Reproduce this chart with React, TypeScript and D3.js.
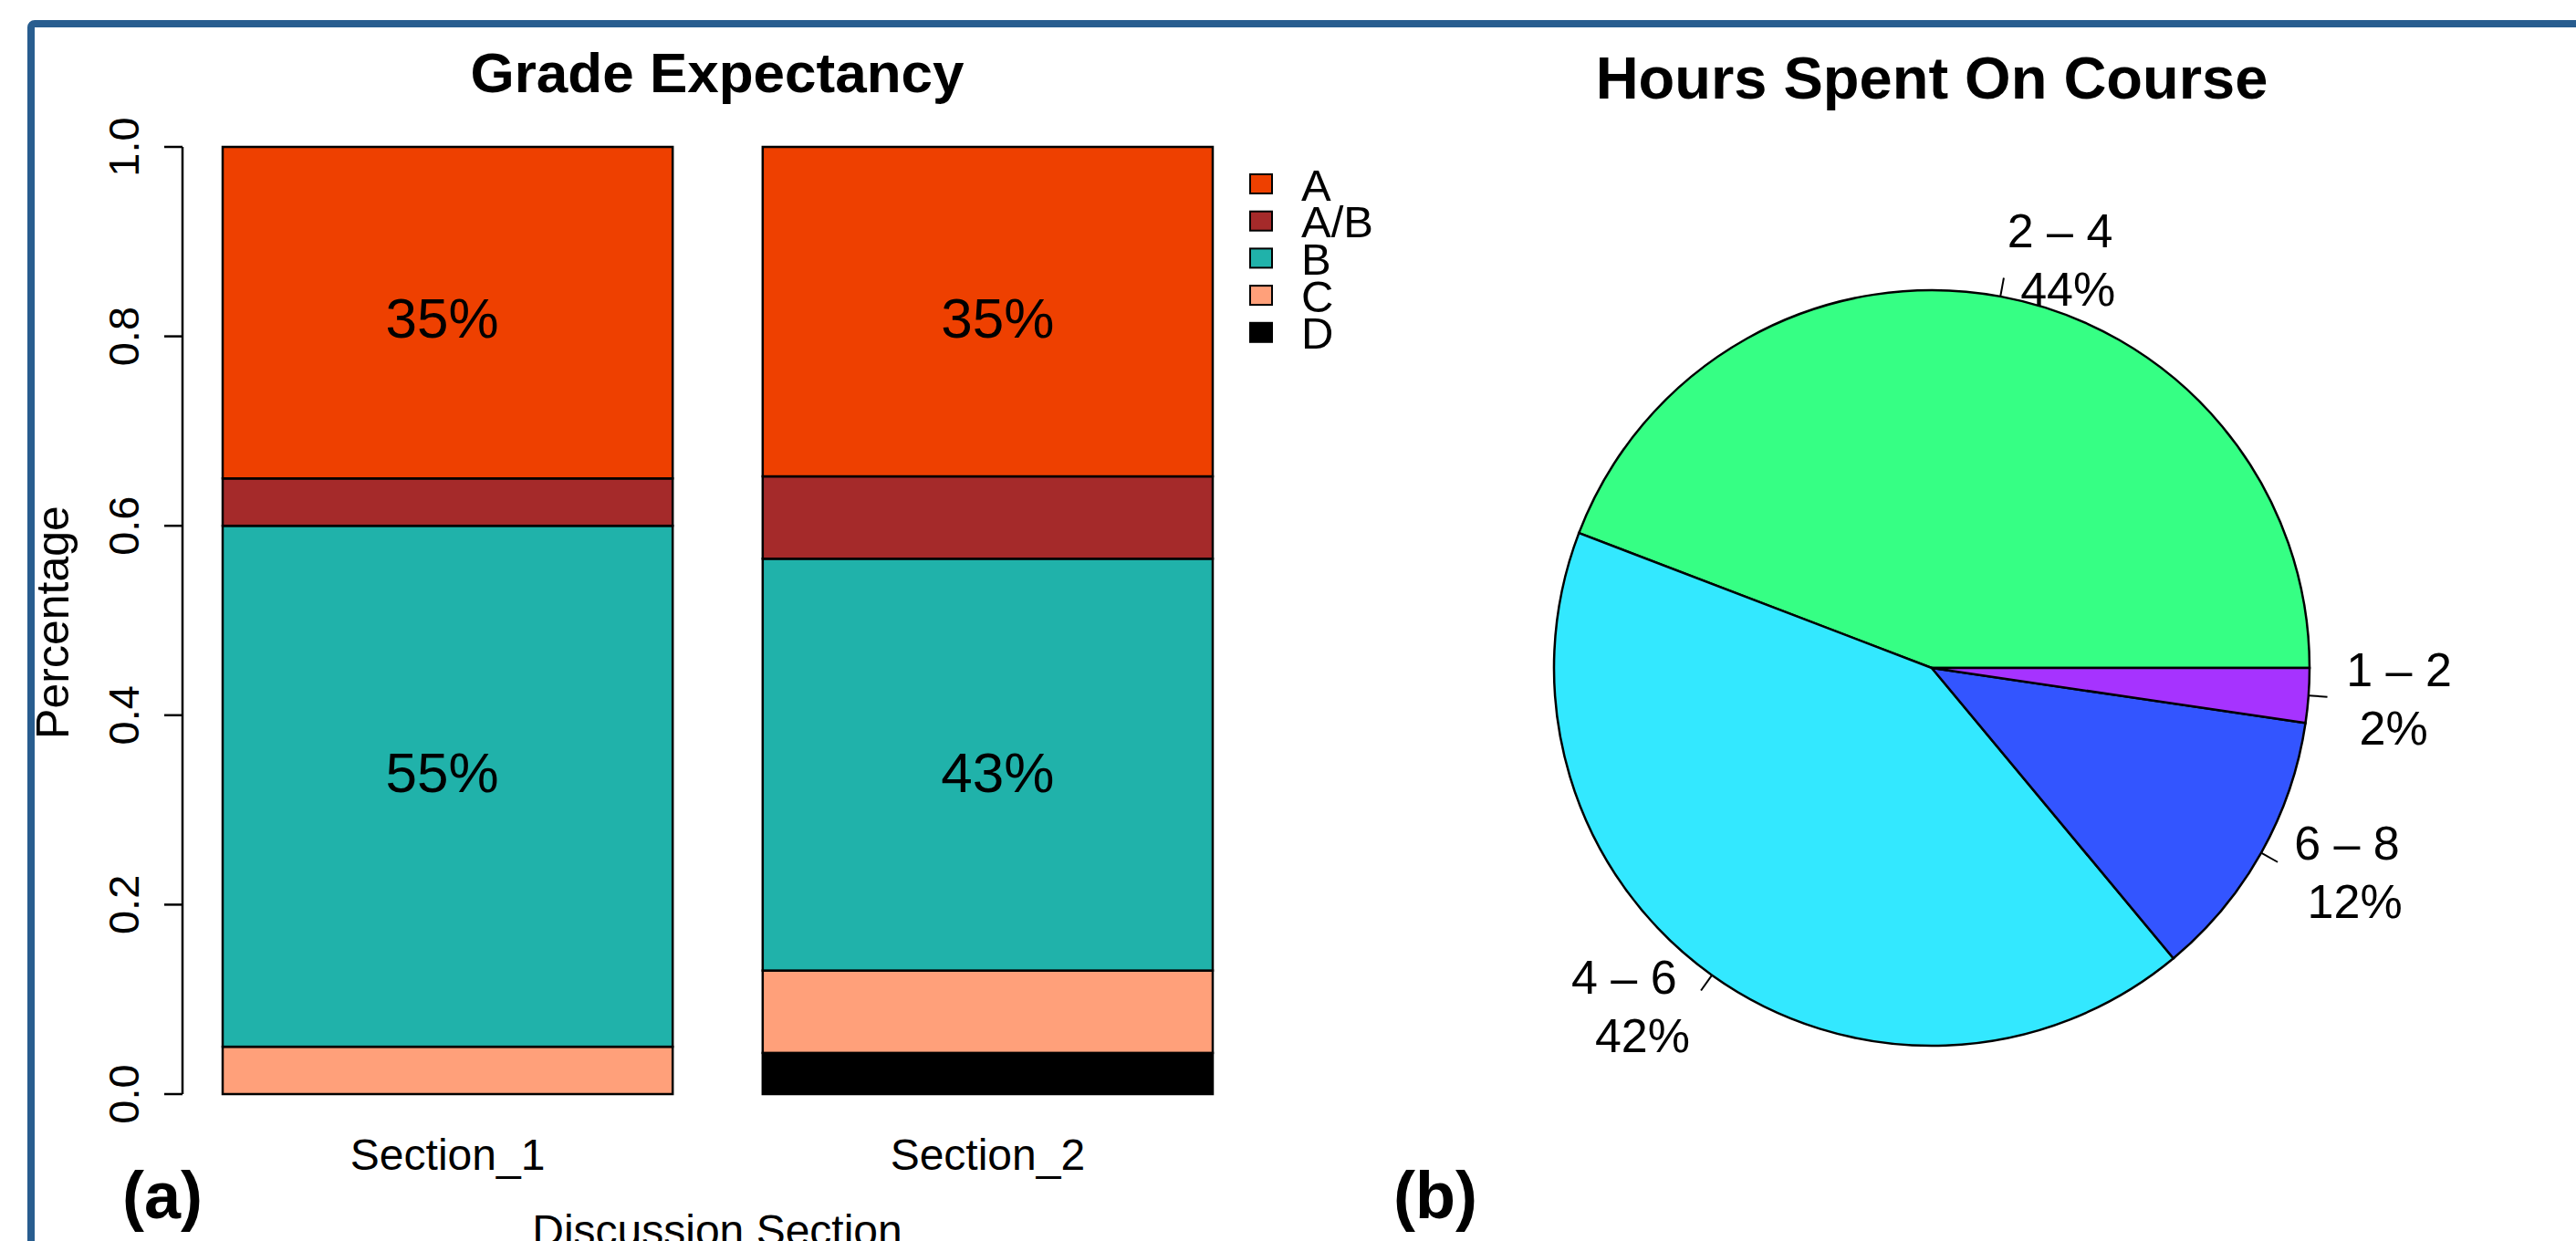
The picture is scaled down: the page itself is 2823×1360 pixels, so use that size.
import React from "react";
import * as d3 from "d3";

const sections = ["Section_1", "Section_2"];
const grades = ["D", "C", "B", "A/B", "A"]; // bottom -> top
const gradeColors = ["#000000", "#FFA07A", "#20B2AA", "#A52A2A", "#EE4000"];
const section1Counts = [0, 1, 11, 1, 7];
const section2Counts = [1, 2, 10, 2, 8];
const barLabelGrades = ["A", "B"];
const barLabelY = [0.82, 0.34];
const barLabelShift = [-0.012, 0.022]; // in bar-width units
const yTicks = [0, 0.2, 0.4, 0.6, 0.8, 1.0];

const hourLabels = ["2 – 4", "4 – 6", "6 – 8", "1 – 2"];
const hourCounts = [19, 18, 5, 1];
const hourColors = ["#36FF84", "#33E8FF", "#3355FF", "#A633FF"];

const FONT = "'Liberation Sans', Arial, Helvetica, sans-serif";

export default function App() {
  const W = 2823;
  const H = 1360;

  // ---------- bar chart ----------
  const y = d3.scaleLinear().domain([0, 1]).range([1199, 161]);
  const x = d3
    .scaleBand<string>()
    .domain(sections)
    .range([244, 1329])
    .paddingInner(1 / 6)
    .paddingOuter(0);
  const countsBySection = [section1Counts, section2Counts];
  const rows = sections.map((s, i) => {
    const tot = d3.sum(countsBySection[i]);
    const r: any = { section: s };
    grades.forEach((g, j) => (r[g] = countsBySection[i][j] / tot));
    return r;
  });
  const stacked = d3.stack<any>().keys(grades)(rows);
  const axisX = 200;

  // ---------- pie ----------
  const cx = 2117;
  const cy = 732;
  const R = 414;
  const total = d3.sum(hourCounts);
  const pieGen = d3
    .pie<number>()
    .sort(null)
    .startAngle(Math.PI / 2)
    .endAngle(Math.PI / 2 - 2 * Math.PI);
  const arcs = pieGen(hourCounts);
  const arcGen = d3.arc<any>().innerRadius(0).outerRadius(R);

  const legendGrades = grades.slice().reverse();

  return (
    <svg
      width={W}
      height={H}
      style={{ position: "absolute", left: 0, top: 0, background: "#fff" }}
      fontFamily={FONT}
    >
      <rect x={0} y={0} width={W} height={H} fill="#fff" />
      <rect
        x={34}
        y={26}
        width={2900}
        height={1450}
        rx={4}
        fill="none"
        stroke="#285D8F"
        strokeWidth={8}
      />

      {/* Bar chart title */}
      <text x={786} y={101} textAnchor="middle" fontSize={62} fontWeight="bold">
        Grade Expectancy
      </text>

      {/* bars */}
      {stacked.map((layer, li) =>
        layer.map((d, si) => {
          const h = y(d[0]) - y(d[1]);
          if (h <= 0.01) return null;
          return (
            <rect
              key={`${li}-${si}`}
              x={x(sections[si])}
              y={y(d[1])}
              width={x.bandwidth()}
              height={h}
              fill={gradeColors[li]}
              stroke="#000"
              strokeWidth={2.5}
            />
          );
        })
      )}

      {/* bar labels */}
      {sections.map((s, si) =>
        barLabelGrades.map((g, gi) => {
          const v = rows[si][g];
          return (
            <text
              key={`${s}-${g}`}
              x={(x(s) as number) + x.bandwidth() * (0.5 + barLabelShift[si])}
              y={y(barLabelY[gi]) + 22}
              textAnchor="middle"
              fontSize={62}
            >
              {Math.round(v * 100)}%
            </text>
          );
        })
      )}

      {/* y axis */}
      <line x1={axisX} x2={axisX} y1={y(0)} y2={y(1)} stroke="#000" strokeWidth={2.5} />
      {yTicks.map((t) => (
        <g key={t}>
          <line x1={axisX - 20} x2={axisX} y1={y(t)} y2={y(t)} stroke="#000" strokeWidth={2.5} />
          <text
            transform={`translate(152,${y(t)}) rotate(-90)`}
            textAnchor="middle"
            fontSize={47}
          >
            {d3.format(".1f")(t)}
          </text>
        </g>
      ))}
      <text transform={`translate(75,682) rotate(-90)`} textAnchor="middle" fontSize={50}>
        Percentage
      </text>

      {/* x labels */}
      {sections.map((s) => (
        <text
          key={s}
          x={(x(s) as number) + x.bandwidth() / 2}
          y={1282}
          textAnchor="middle"
          fontSize={48}
        >
          {s}
        </text>
      ))}
      <text x={786} y={1365} textAnchor="middle" fontSize={48}>
        Discussion Section
      </text>

      {/* legend */}
      {legendGrades.map((g, i) => {
        const cyL = 201.5 + i * 40.7;
        const ci = grades.indexOf(g);
        return (
          <g key={g}>
            <rect
              x={1370}
              y={cyL - 10.5}
              width={24}
              height={21}
              fill={gradeColors[ci]}
              stroke="#000"
              strokeWidth={2}
            />
            <text x={1426} y={cyL + 18} fontSize={49}>
              {g}
            </text>
          </g>
        );
      })}

      <text x={134} y={1335} fontSize={72} fontWeight="bold">
        (a)
      </text>

      {/* pie */}
      <text x={cx} y={108} textAnchor="middle" fontSize={65} fontWeight="bold">
        Hours Spent On Course
      </text>
      <g transform={`translate(${cx},${cy})`}>
        {arcs.map((a, i) => (
          <path key={i} d={arcGen(a) as string} fill={hourColors[i]} stroke="#000" strokeWidth={2.5} />
        ))}
        {arcs.map((a, i) => {
          const m = (a.startAngle + a.endAngle) / 2;
          const sx = Math.sin(m);
          const sy = -Math.cos(m);
          const right = sx >= 0;
          const pct = Math.round((hourCounts[i] / total) * 100);
          const lx = 1.1 * R * sx;
          const ly = 1.1 * R * sy;
          const lh = 64;
          const l1 = hourLabels[i] + " ";
          const l2 = " " + pct + "%";
          return (
            <g key={`l${i}`}>
              <line
                x1={R * sx}
                y1={R * sy}
                x2={1.05 * R * sx}
                y2={1.05 * R * sy}
                stroke="#000"
                strokeWidth={2}
              />
              <text
                x={lx}
                y={ly - lh / 2 + 19}
                textAnchor={right ? "start" : "end"}
                fontSize={52}
                style={{ whiteSpace: "pre" }}
              >
                {l1}
              </text>
              <text
                x={lx}
                y={ly + lh / 2 + 19}
                textAnchor={right ? "start" : "end"}
                fontSize={52}
                style={{ whiteSpace: "pre" }}
              >
                {l2}
              </text>
            </g>
          );
        })}
      </g>

      <text x={1527} y={1335} fontSize={72} fontWeight="bold">
        (b)
      </text>
    </svg>
  );
}
